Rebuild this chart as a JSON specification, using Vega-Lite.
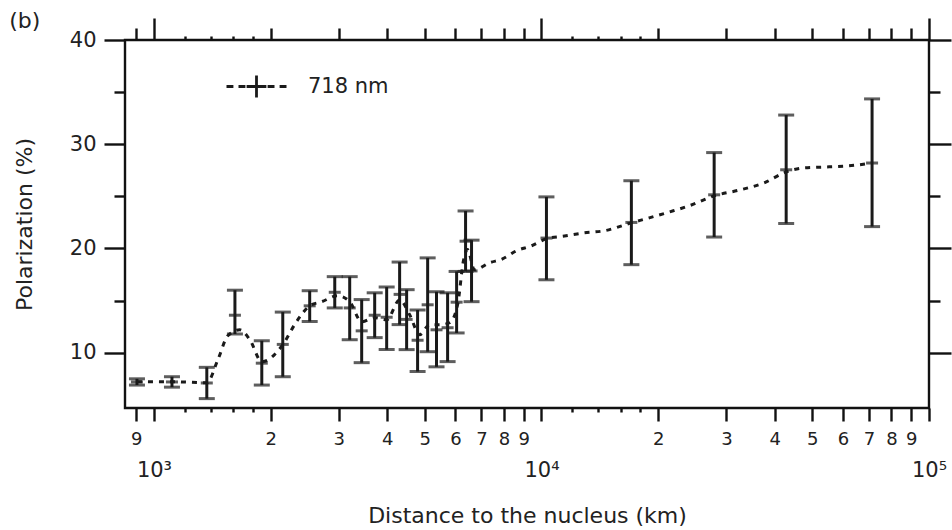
{
  "$schema": "https://vega.github.io/schema/vega-lite/v6.json",
  "width": 804,
  "height": 368,
  "autosize": {"type": "none"},
  "padding": {"left": 125, "top": 40, "right": 23, "bottom": 122},
  "title": {"text": "(b)", "anchor": "start", "frame": "bounds", "fontSize": 22, "font": "DejaVu Sans", "fontWeight": "normal", "color": "#222", "offset": -16, "dx": -4},
  "config": {
    "view": {"stroke": "#111", "strokeWidth": 2.4},
    "axis": {"grid": false, "domain": false, "tickColor": "#111", "tickWidth": 2.4, "labelFont": "DejaVu Sans", "titleFont": "DejaVu Sans", "labelColor": "#222", "titleColor": "#222", "titleFontWeight": "normal", "labelOverlap": false, "labelFlush": false, "labelBound": false}
  },
  "datasets": {
    "pts": [
      {"dist": 904, "val": 7.2, "lo": 6.9, "hi": 7.5},
      {"dist": 1113, "val": 7.2, "lo": 6.7, "hi": 7.7},
      {"dist": 1369, "val": 7.1, "lo": 5.6, "hi": 8.6},
      {"dist": 1618, "val": 13.6, "lo": 11.8, "hi": 16.0},
      {"dist": 1898, "val": 9.0, "lo": 6.9, "hi": 11.15},
      {"dist": 2150, "val": 10.8, "lo": 7.7, "hi": 13.9},
      {"dist": 2523, "val": 14.5, "lo": 13.0, "hi": 15.95},
      {"dist": 2928, "val": 15.8, "lo": 14.3, "hi": 17.3},
      {"dist": 3200, "val": 14.3, "lo": 11.25, "hi": 17.3},
      {"dist": 3436, "val": 12.1, "lo": 9.05, "hi": 15.1},
      {"dist": 3712, "val": 13.6, "lo": 11.45, "hi": 15.75},
      {"dist": 3986, "val": 13.4, "lo": 10.3, "hi": 16.3},
      {"dist": 4305, "val": 15.6, "lo": 12.7, "hi": 18.7},
      {"dist": 4488, "val": 13.2, "lo": 10.3, "hi": 16.05},
      {"dist": 4790, "val": 11.2, "lo": 8.2, "hi": 14.1},
      {"dist": 5085, "val": 14.6, "lo": 10.1, "hi": 19.1},
      {"dist": 5360, "val": 12.2, "lo": 8.65, "hi": 15.85},
      {"dist": 5725, "val": 12.4, "lo": 9.15, "hi": 15.75},
      {"dist": 6040, "val": 14.85, "lo": 11.9, "hi": 17.8},
      {"dist": 6370, "val": 20.7, "lo": 17.8, "hi": 23.6},
      {"dist": 6600, "val": 17.85, "lo": 14.9, "hi": 20.8},
      {"dist": 10300, "val": 21.0, "lo": 17.0, "hi": 24.95},
      {"dist": 17060, "val": 22.5, "lo": 18.45, "hi": 26.5},
      {"dist": 27900, "val": 25.15, "lo": 21.1, "hi": 29.2},
      {"dist": 42800, "val": 27.55, "lo": 22.4, "hi": 32.8},
      {"dist": 71300, "val": 28.2, "lo": 22.1, "hi": 34.35}
    ],
    "curve": [
      {"dist": 904, "pol": 7.22, "series": "718 nm"},
      {"dist": 1113, "pol": 7.22, "series": "718 nm"},
      {"dist": 1369, "pol": 7.12, "series": "718 nm"},
      {"dist": 1462, "pol": 9.33, "series": "718 nm"},
      {"dist": 1551, "pol": 11.63, "series": "718 nm"},
      {"dist": 1666, "pol": 12.2, "series": "718 nm"},
      {"dist": 1768, "pol": 11.25, "series": "718 nm"},
      {"dist": 1898, "pol": 9.14, "series": "718 nm"},
      {"dist": 2150, "pol": 10.77, "series": "718 nm"},
      {"dist": 2323, "pol": 12.88, "series": "718 nm"},
      {"dist": 2523, "pol": 14.5, "series": "718 nm"},
      {"dist": 2710, "pol": 14.9, "series": "718 nm"},
      {"dist": 2981, "pol": 15.47, "series": "718 nm"},
      {"dist": 3200, "pol": 14.9, "series": "718 nm"},
      {"dist": 3436, "pol": 12.97, "series": "718 nm"},
      {"dist": 3712, "pol": 13.36, "series": "718 nm"},
      {"dist": 3986, "pol": 13.16, "series": "718 nm"},
      {"dist": 4305, "pol": 15.08, "series": "718 nm"},
      {"dist": 4570, "pol": 13.64, "series": "718 nm"},
      {"dist": 4848, "pol": 11.73, "series": "718 nm"},
      {"dist": 5143, "pol": 12.68, "series": "718 nm"},
      {"dist": 5460, "pol": 12.68, "series": "718 nm"},
      {"dist": 5793, "pol": 12.88, "series": "718 nm"},
      {"dist": 6075, "pol": 14.6, "series": "718 nm"},
      {"dist": 6295, "pol": 18.9, "series": "718 nm"},
      {"dist": 6440, "pol": 19.9, "series": "718 nm"},
      {"dist": 6715, "pol": 17.96, "series": "718 nm"},
      {"dist": 7342, "pol": 18.63, "series": "718 nm"},
      {"dist": 7932, "pol": 19.0, "series": "718 nm"},
      {"dist": 8621, "pol": 19.78, "series": "718 nm"},
      {"dist": 9422, "pol": 20.26, "series": "718 nm"},
      {"dist": 10300, "pol": 20.93, "series": "718 nm"},
      {"dist": 11460, "pol": 21.2, "series": "718 nm"},
      {"dist": 12900, "pol": 21.5, "series": "718 nm"},
      {"dist": 14530, "pol": 21.7, "series": "718 nm"},
      {"dist": 17060, "pol": 22.46, "series": "718 nm"},
      {"dist": 18970, "pol": 22.94, "series": "718 nm"},
      {"dist": 21370, "pol": 23.5, "series": "718 nm"},
      {"dist": 24060, "pol": 24.1, "series": "718 nm"},
      {"dist": 27900, "pol": 25.05, "series": "718 nm"},
      {"dist": 32370, "pol": 25.6, "series": "718 nm"},
      {"dist": 37560, "pol": 26.3, "series": "718 nm"},
      {"dist": 42800, "pol": 27.35, "series": "718 nm"},
      {"dist": 47640, "pol": 27.74, "series": "718 nm"},
      {"dist": 55240, "pol": 27.83, "series": "718 nm"},
      {"dist": 62200, "pol": 27.93, "series": "718 nm"},
      {"dist": 71300, "pol": 28.2, "series": "718 nm"}
    ]
  },
  "layer": [
    {
      "data": {"name": "pts"},
      "mark": {"type": "rule", "color": "#1a1a1a", "strokeWidth": 3},
      "encoding": {
        "x": {"field": "dist", "type": "quantitative", "scale": {"type": "log", "domain": [842, 100000], "nice": false},
          "axis": {"orient": "bottom", "title": "Distance to the nucleus (km)", "titleFontSize": 22, "titlePadding": 25,
            "values": [900, 1000, 1200, 1400, 1600, 1800, 2000, 3000, 4000, 5000, 6000, 7000, 8000, 9000, 10000, 12000, 14000, 16000, 18000, 20000, 30000, 40000, 50000, 60000, 70000, 80000, 90000, 100000],
            "labelExpr": "datum.value === 1000 ? '10³' : datum.value === 10000 ? '10⁴' : datum.value === 100000 ? '10⁵' : (indexof([1200,1400,1600,1800,12000,14000,16000,18000], datum.value) >= 0 ? '' : substring(toString(datum.value), 0, 1))",
            "labelFontSize": {"condition": {"test": "indexof([1000,10000,100000], datum.value) >= 0", "value": 21}, "value": 18},
            "labelPadding": {"condition": {"test": "indexof([1000,10000,100000], datum.value) >= 0", "value": 38}, "value": 9},
            "tickSize": {"condition": {"test": "indexof([1200,1400,1600,1800,12000,14000,16000,18000], datum.value) >= 0", "value": 4}, "value": 13}
          }},
        "y": {"field": "lo", "type": "quantitative", "scale": {"domain": [4.7, 40], "nice": false, "zero": false},
          "axis": {"orient": "left", "title": "Polarization (%)", "titleFontSize": 22, "titlePadding": 33,
            "values": [10, 15, 20, 25, 30, 35, 40],
            "labelExpr": "datum.value % 10 === 0 ? datum.label : ''",
            "labelFontSize": 21, "labelPadding": 8,
            "tickSize": {"condition": {"test": "datum.value % 10 === 0", "value": 21}, "value": 11}
          }},
        "y2": {"field": "hi"}
      }
    },
    {
      "data": {"name": "pts"},
      "mark": {"type": "tick", "orient": "horizontal", "color": "#1a1a1a", "size": 16, "thickness": 3},
      "encoding": {
        "x": {"field": "dist", "type": "quantitative", "scale": {"type": "log", "domain": [842, 100000], "nice": false},
          "axis": {"orient": "top", "title": null, "labels": false,
            "values": [900, 1000, 1200, 1400, 1600, 1800, 2000, 3000, 4000, 5000, 6000, 7000, 8000, 9000, 10000, 12000, 14000, 16000, 18000, 20000, 30000, 40000, 50000, 60000, 70000, 80000, 90000, 100000],
            "tickSize": {"condition": [{"test": "indexof([1000,10000,100000], datum.value) >= 0", "value": 22}, {"test": "indexof([1200,1400,1600,1800,12000,14000,16000,18000], datum.value) >= 0", "value": 4}], "value": 12}
          }},
        "y": {"field": "lo", "type": "quantitative", "scale": {"domain": [4.7, 40], "nice": false, "zero": false},
          "axis": {"orient": "right", "title": null, "labels": false,
            "values": [10, 15, 20, 25, 30, 35, 40],
            "tickSize": {"condition": {"test": "datum.value % 10 === 0", "value": 22}, "value": 11}
          }}
      }
    },
    {
      "data": {"name": "pts"},
      "mark": {"type": "tick", "orient": "horizontal", "color": "#1a1a1a", "size": 16, "thickness": 3},
      "encoding": {
        "x": {"field": "dist", "type": "quantitative", "scale": {"type": "log", "domain": [842, 100000], "nice": false}, "axis": null},
        "y": {"field": "hi", "type": "quantitative", "scale": {"domain": [4.7, 40], "nice": false, "zero": false}, "axis": null}
      }
    },
    {
      "data": {"name": "pts"},
      "mark": {"type": "tick", "orient": "horizontal", "color": "#1a1a1a", "size": 12, "thickness": 3},
      "encoding": {
        "x": {"field": "dist", "type": "quantitative", "scale": {"type": "log", "domain": [842, 100000], "nice": false}, "axis": null},
        "y": {"field": "val", "type": "quantitative", "scale": {"domain": [4.7, 40], "nice": false, "zero": false}, "axis": null}
      }
    },
    {
      "data": {"name": "curve"},
      "mark": {"type": "line", "strokeWidth": 3, "strokeDash": [5, 6], "interpolate": "monotone"},
      "encoding": {
        "x": {"field": "dist", "type": "quantitative", "scale": {"type": "log", "domain": [842, 100000], "nice": false}, "axis": null},
        "y": {"field": "pol", "type": "quantitative", "scale": {"domain": [4.7, 40], "nice": false, "zero": false}, "axis": null},
        "color": {"field": "series", "type": "nominal", "scale": {"range": ["#1a1a1a"]},
          "legend": {"title": null, "orient": "none", "legendX": 100, "legendY": 15,
            "symbolType": "M-1,0H-0.77M-0.6,0H-0.37M-0.33,0H0.33M0,-0.37V0.37M0.37,0H0.6M0.77,0H1",
            "symbolSize": 3600, "symbolStrokeWidth": 2.8, "symbolFillColor": "transparent", "symbolStrokeColor": "#1a1a1a",
            "labelFontSize": 21, "labelFont": "DejaVu Sans", "labelColor": "#222", "labelOffset": 20}}
      }
    }
  ],
  "resolve": {"axis": {"x": "independent", "y": "independent"}}
}
